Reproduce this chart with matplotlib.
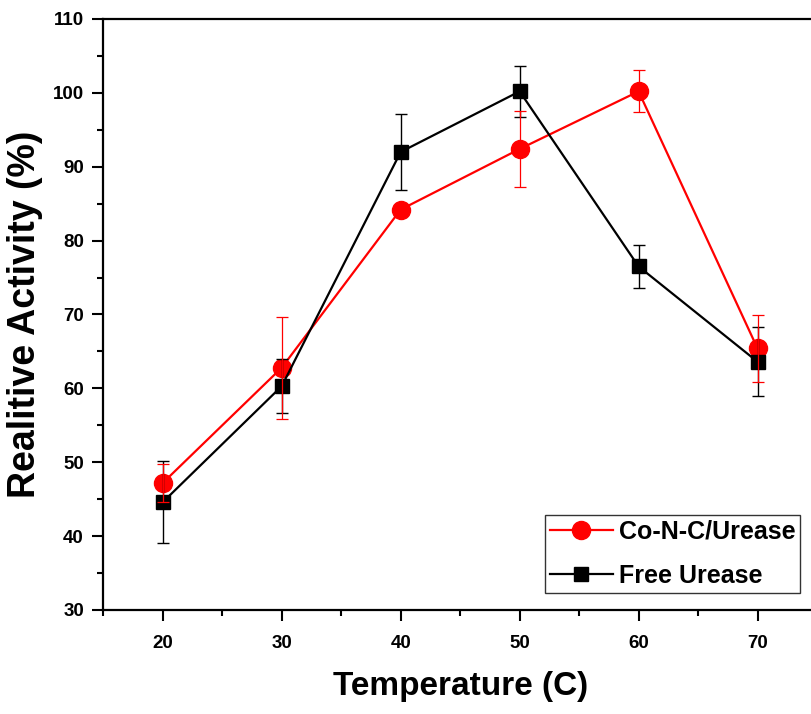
import matplotlib
matplotlib.use("Agg")
import matplotlib.pyplot as plt
from matplotlib.ticker import MultipleLocator

plt.rcParams['font.family'] = ['Liberation Sans', 'DejaVu Sans']
plt.rcParams['font.weight'] = 'bold'

# Relative activity vs temperature, mean +/- error
temps = [20, 30, 40, 50, 60, 70]
conc_activity = [47.2, 62.8, 84.2, 92.4, 100.2, 65.4]
conc_err = [2.6, 6.9, 0.8, 5.2, 2.85, 4.5]
free_activity = [44.6, 60.3, 92.0, 100.2, 76.5, 63.6]
free_err = [5.5, 3.7, 5.1, 3.4, 2.95, 4.65]

fig = plt.figure(figsize=(8.11, 7.14), dpi=100)
# right spine falls just past the figure edge
ax = fig.add_axes([0.1274, 0.1457, 0.880, 0.8277])

ax.plot(temps, conc_activity, color='red', lw=1.6, marker='o', ms=13,
        mec='red', label='Co-N-C/Urease', zorder=2)
ax.plot(temps, free_activity, color='black', lw=1.6, marker='s', ms=10.5,
        mec='black', label='Free Urease', zorder=3)
ax.errorbar(temps, free_activity, yerr=free_err, fmt='none', ecolor='black',
            elinewidth=1.0, capsize=4.5, capthick=1.0, zorder=4)
ax.errorbar(temps, conc_activity, yerr=conc_err, fmt='none', ecolor='red',
            elinewidth=0.9, capsize=4.2, capthick=0.9, zorder=5)

ax.set_xlim(15, 75)
ax.set_ylim(30, 110)
ax.xaxis.set_major_locator(MultipleLocator(10))
ax.xaxis.set_minor_locator(MultipleLocator(5))
ax.yaxis.set_major_locator(MultipleLocator(10))
ax.yaxis.set_minor_locator(MultipleLocator(5))
ax.tick_params(which='major', direction='out', length=8, width=1.5,
               labelsize=13.5, pad=6)
ax.tick_params(which='minor', direction='out', length=4.5, width=1.5)
ax.tick_params(axis='x', pad=10)
for side in ax.spines.values():
    side.set_linewidth(1.6)

ax.set_xlabel('Temperature (C)', fontsize=24, fontweight='bold', labelpad=14)
ax.set_ylabel('Realitive Activity (%)', fontsize=27, fontweight='bold',
              labelpad=7)

leg = ax.legend(loc='upper left', bbox_to_anchor=(0.619, 0.161),
                borderaxespad=0, fontsize=18, frameon=True, fancybox=False,
                handlelength=2.5, handletextpad=0.25, borderpad=0.2,
                labelspacing=0.8)
leg.get_frame().set_edgecolor('black')
leg.get_frame().set_linewidth(1.0)

fig.savefig('out.png', dpi=100)
